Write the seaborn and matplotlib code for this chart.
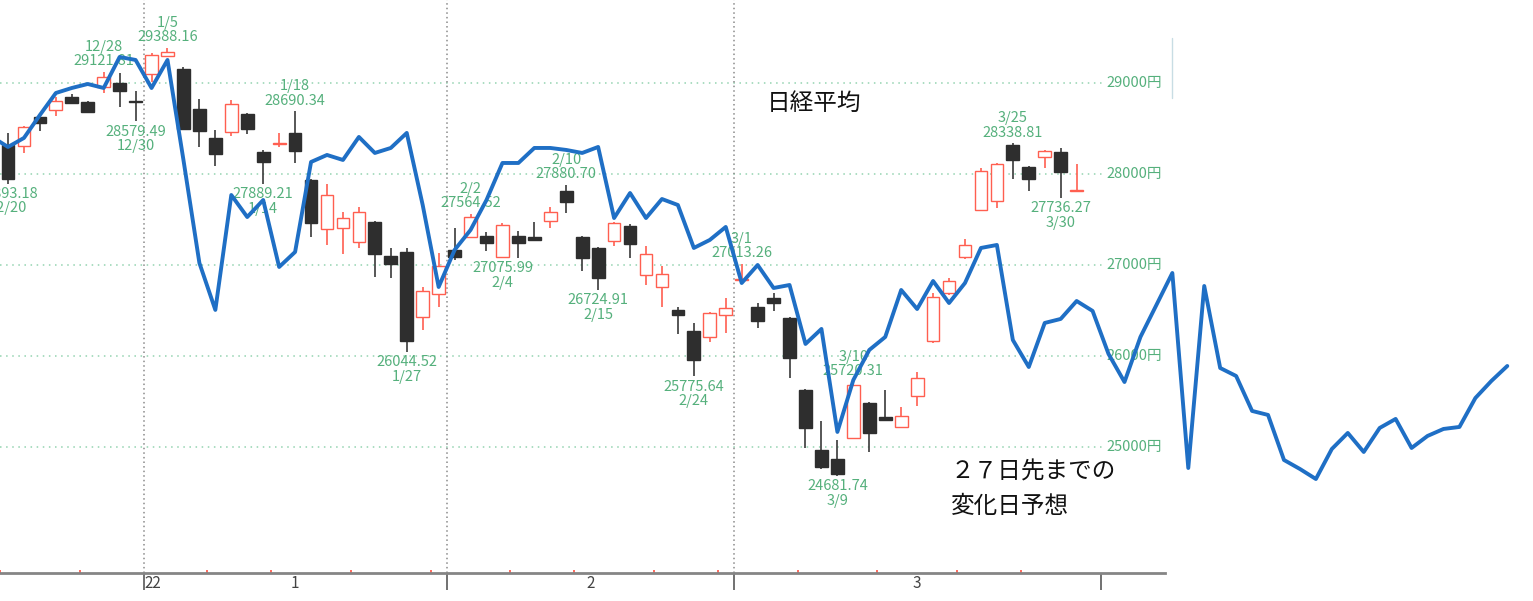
import numpy as np
import pandas as pd
import matplotlib
matplotlib.use('Agg')
import matplotlib.pyplot as plt
from matplotlib.lines import Line2D
import seaborn as sns

# Nikkei daily candles, Dec 2021 - Mar 2022
dates = ['12/20', '12/21', '12/22', '12/23', '12/24', '12/27', '12/28', '12/29', '12/30',
         '1/4', '1/5', '1/6', '1/7', '1/11', '1/12', '1/13', '1/14', '1/17', '1/18', '1/19',
         '1/20', '1/21', '1/24', '1/25', '1/26', '1/27', '1/28', '1/31',
         '2/1', '2/2', '2/3', '2/4', '2/7', '2/8', '2/9', '2/10', '2/14', '2/15', '2/16',
         '2/17', '2/18', '2/21', '2/22', '2/24', '2/25', '2/28',
         '3/1', '3/2', '3/3', '3/4', '3/7', '3/8', '3/9', '3/10', '3/11', '3/14', '3/15',
         '3/16', '3/17', '3/18', '3/22', '3/23', '3/24', '3/25', '3/28', '3/29', '3/30', '3/31']
opens = [28319, 28308, 28626, 28703, 28846, 28791, 28956, 29000, 28800,
         29099, 29297, 29154, 28714, 28396, 28462, 28659, 28242, 28330, 28451, 27934,
         27396, 27407, 27253, 27473, 27099, 27143, 26429, 26681,
         27165, 27308, 27319, 27088, 27319, 27308, 27484, 27813, 27308, 27187, 27264,
         27429, 26890, 26758, 26506, 26275, 26209, 26451,
         26840, 26538, 26637, 26418, 25626, 24967, 24868, 25099, 25484, 25330, 25220,
         25560, 26165, 26692, 27088, 27604, 27703, 28320, 28077, 28187, 28242, 27818]
highs = [28451, 28527, 28648, 28846, 28879, 28802, 29121.81, 29110, 28912,
         29330, 29388.16, 29176, 28824, 28484, 28813, 28670, 28264, 28451, 28690.34, 27945,
         27890, 27582, 27637, 27484, 27187, 27187, 26758, 27132,
         27407, 27564.52, 27363, 27462, 27374, 27473, 27637, 27880.70, 27319, 27198, 27473,
         27451, 27209, 26989, 26538, 26363, 26480, 26637,
         27013.26, 26582, 26692, 26430, 25637, 25286, 25077, 25720.31, 25495, 25626, 25440,
         25824, 26692, 26857, 27286, 28066, 28121, 28338.81, 28088, 28264, 28286, 28110]
lows = [27893.18, 28231, 28473, 28637, 28769, 28670, 28890, 28736, 28579.49,
        29011, 29286, 28484, 28297, 28088, 28418, 28440, 27889.21, 28297, 28121, 27308,
        27220, 27121, 27187, 26868, 26857, 26044.52, 26286, 26538,
        27055, 27297, 27154, 27075.99, 27077, 27275, 27407, 27571, 26934, 26724.91, 27209,
        27077, 26780, 26538, 26242, 25775.64, 26154, 26253,
        26813, 26308, 26495, 25758, 24989, 24758, 24681.74, 25088, 24945, 25300, 25209,
        25451, 26143, 26670, 27066, 27593, 27626, 27945, 27813, 28066, 27736.27, 27813]
closes = [27945, 28516, 28560, 28802, 28780, 28681, 29066, 28912, 28791,
          29308, 29341, 28495, 28473, 28220, 28769, 28495, 28132, 28341, 28253, 27462,
          27769, 27516, 27582, 27121, 27011, 26165, 26714, 26989,
          27088, 27527, 27242, 27440, 27242, 27275, 27582, 27692, 27077, 26857, 27462,
          27231, 27121, 26901, 26451, 25956, 26473, 26527,
          26850, 26385, 26582, 25978, 25209, 24780, 24703, 25681, 25154, 25300, 25341,
          25758, 26648, 26824, 27220, 28033, 28110, 28154, 27945, 28253, 28022, 27821]

# change-day forecast line, one value per session, starting one session before 12/20
forecast = [28407, 28297, 28396, 28648, 28890, 28945, 28989, 28945, 29286, 29253,
            28945, 29253, 28154, 27022, 26506, 27769, 27527, 27714, 26978, 27143,
            28132, 28209, 28154, 28407, 28231, 28286, 28451, 27659, 26758, 27165,
            27385, 27714, 28121, 28121, 28286, 28286, 28264, 28231, 28297, 27516,
            27791, 27516, 27725, 27659, 27187, 27275, 27418, 26802, 27000, 26747,
            26780, 26132, 26297, 25165, 25736, 26066, 26209, 26725, 26516, 26824,
            26582, 26802, 27187, 27220, 26176, 25879, 26363, 26407, 26604, 26495,
            26022, 25714, 26209, 26560, 26912, 24769, 26769, 25868, 25780, 25396,
            25352, 24857, 24758, 24648, 24978, 25154, 24945, 25209, 25308, 24989,
            25121, 25198, 25220, 25538, 25725, 25890]

high_marks = ['12/28', '1/5', '1/18', '2/2', '2/10', '3/1', '3/10', '3/25']
low_marks = ['12/20', '12/30', '1/14', '1/27', '2/4', '2/15', '2/24', '3/9', '3/30']
price_ticks = [25000, 26000, 27000, 28000, 29000]
month_labels = ['22', '1', '2', '3']
title_text = '日経平均'
note_text = '２７日先までの\n変化日予想'

df = pd.DataFrame({'date': dates, 'open': opens, 'high': highs, 'low': lows, 'close': closes})
df['i'] = np.arange(len(df))
df['up'] = df['close'] >= df['open']
day = pd.to_datetime([('2021/' if d.startswith('12/') else '2022/') + d for d in dates])

# week starts (red minor ticks) and month starts (major ticks)
week_bounds = [-0.5] if day[0].weekday() == 0 else []
month_bounds = []
for k in range(1, len(day)):
    if day[k].weekday() < day[k - 1].weekday():
        week_bounds.append(k - 0.5)
    if day[k].month != day[k - 1].month:
        month_bounds.append(k - 0.5)
month_bounds.append(len(day) + 0.5)

sns.set_theme(style='white')
plt.rcParams['font.family'] = ['Liberation Sans Narrow', 'Noto Sans CJK JP', 'DejaVu Sans']

fig = plt.figure(figsize=(15.33, 6.01), dpi=100)
ax = fig.add_axes([0, 28 / 601, 1165 / 1533, 573 / 601])
ax.set_xlim(-0.5016, 72.54)
ax.set_ylim(23615, 29912)

green = '#55b07c'
red = '#ff5f50'

# grid + price labels
ax.hlines(price_ticks, -0.5, 68.7, colors='#93d3b0', linestyles=(0, (1, 3)), linewidth=1.1, zorder=1)
for p in price_ticks:
    ax.text(72.35, p, f'{p}円', ha='right', va='center', color=green, fontsize=10.5, zorder=3)
ax.vlines(month_bounds[:-1], 23615, 29912, colors='#8a8a8a', linestyles=(0, (1, 2)), linewidth=1.1, zorder=1)

# candles
body_w = 0.8
for _, r in df.iterrows():
    lo_b, hi_b = min(r['open'], r['close']), max(r['open'], r['close'])
    if r['up']:
        ax.vlines(r['i'], r['low'], r['high'], colors=red, linewidth=1.2, zorder=2)
        ax.bar(r['i'], hi_b - lo_b, bottom=lo_b, width=body_w, facecolor='white',
               edgecolor=red, linewidth=1.0, zorder=2.5)
    else:
        ax.vlines(r['i'], r['low'], r['high'], colors='#3a3a3a', linewidth=1.2, zorder=2)
        ax.bar(r['i'], max(hi_b - lo_b, 8), bottom=lo_b, width=body_w, facecolor='#2e2e2e',
               edgecolor='#2e2e2e', linewidth=1.0, zorder=2.5)

# high / low annotations
lab = df.set_index('date')
for d in high_marks:
    r = lab.loc[d]
    ax.annotate(f"{r['high']:.2f}", (r['i'], r['high']), xytext=(0, 7.5), textcoords='offset points',
                ha='center', va='center', color=green, fontsize=10.5, zorder=3)
    ax.annotate(d, (r['i'], r['high']), xytext=(0, 17.8), textcoords='offset points',
                ha='center', va='center', color=green, fontsize=10.5, zorder=3)
for d in low_marks:
    r = lab.loc[d]
    ax.annotate(f"{r['low']:.2f}", (r['i'], r['low']), xytext=(0, -7.5), textcoords='offset points',
                ha='center', va='center', color=green, fontsize=10.5, zorder=3)
    ax.annotate(d, (r['i'], r['low']), xytext=(0, -17.8), textcoords='offset points',
                ha='center', va='center', color=green, fontsize=10.5, zorder=3)

# forecast line (runs past the chart panel)
fx = np.arange(len(forecast)) - 1
sns.lineplot(x=fx, y=forecast, ax=ax, color='#1f6fc5', linewidth=2.8, sort=False,
             clip_on=False, zorder=5)

# texts
ax.text(47.6, 28780, title_text, ha='left', va='center', fontsize=17, color='#111111',
        family=['Noto Sans CJK JP'])
note1, note2 = note_text.split('\n')
ax.text(59.1, 24725, note1, ha='left', va='center', fontsize=17, color='#111111',
        family=['Noto Sans CJK JP'])
ax.text(59.1, 24341, note2, ha='left', va='center', fontsize=17, color='#111111',
        family=['Noto Sans CJK JP'])

# axis
for s in ['top', 'left', 'right']:
    ax.spines[s].set_visible(False)
ax.spines['bottom'].set_color('#858585')
ax.spines['bottom'].set_linewidth(2)
ax.set_yticks([])
ax.set_xticks(month_bounds)
ax.set_xticklabels([])
ax.set_xticks(week_bounds, minor=True)
ax.tick_params(axis='x', which='major', direction='out', length=12, width=1.3, color='#666666', bottom=True)
ax.tick_params(axis='x', which='minor', direction='in', length=2.5, width=1.3, color=red, bottom=True)
ax.grid(False)

mid = [month_bounds[0] + 0.55] + [(a + b) / 2 for a, b in zip(month_bounds[:-1], month_bounds[1:])]
for x, t in zip(mid, month_labels):
    ax.text(x, -0.018, t, transform=ax.get_xaxis_transform(), ha='center', va='center',
            fontsize=11, color='#444444')

fig.add_artist(Line2D([1172 / 1533] * 2, [1 - 38 / 601, 1 - 98 / 601], color='#c8dde4', linewidth=1))

fig.savefig('out.png', dpi=100)
